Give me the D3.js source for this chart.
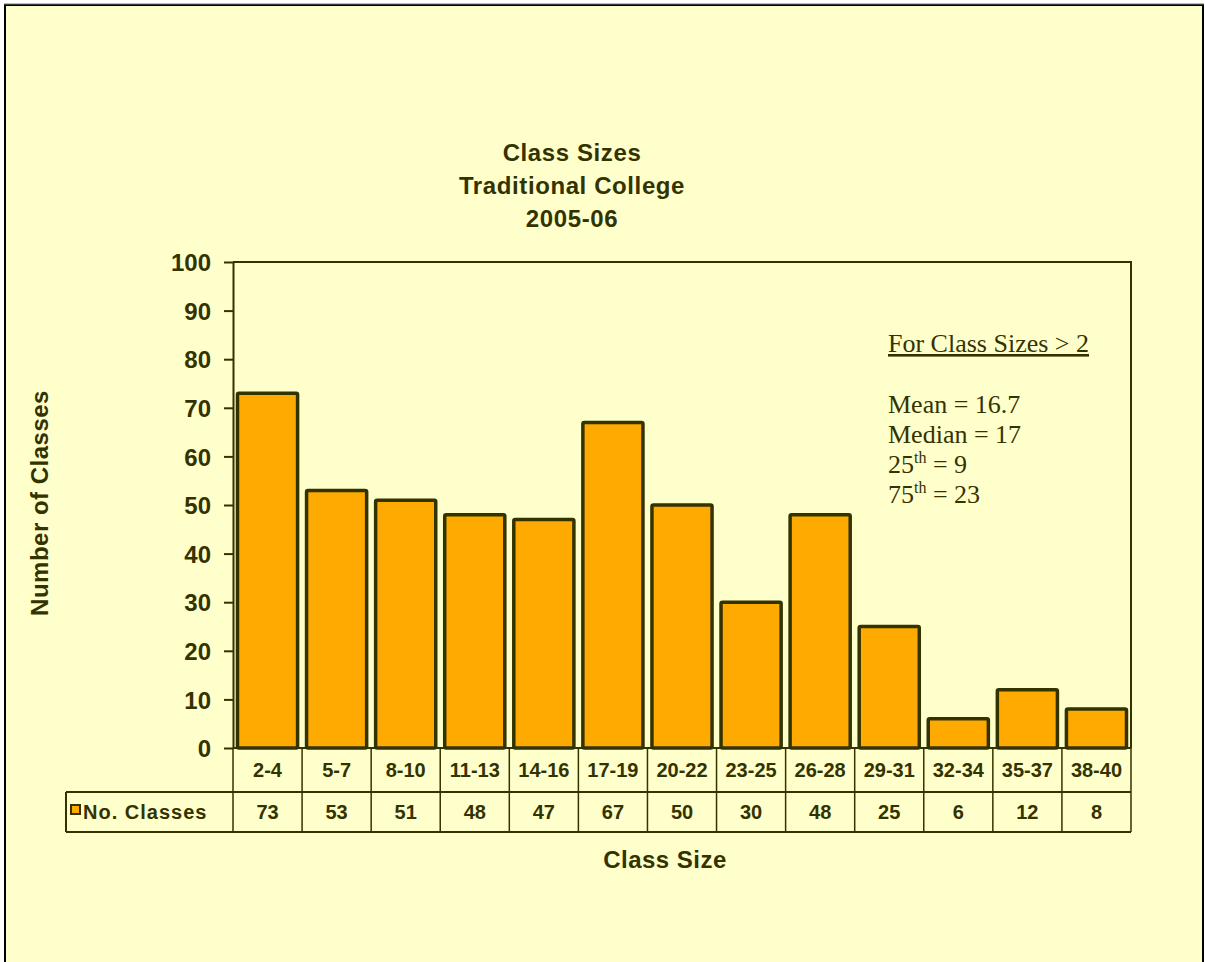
<!DOCTYPE html>
<html>
<head>
<meta charset="utf-8">
<script src="https://cdn.jsdelivr.net/npm/d3@7"></script>
<style>
  html, body { margin: 0; padding: 0; background: #fff; }
  svg { display: block; }
</style>
</head>
<body>
<div id="chart"></div>
<script>
const WIDTH = 1205;
const HEIGHT = 962;

const categories = ["2-4","5-7","8-10","11-13","14-16","17-19","20-22","23-25","26-28","29-31","32-34","35-37","38-40"];
const noClasses = [73,53,51,48,47,67,50,30,48,25,6,12,8];
const yTicks = [0,10,20,30,40,50,60,70,80,90,100];
const titleLines = ["Class Sizes","Traditional College","2005-06"];
const seriesName = "No. Classes";

const INK = "#333300";
const BAR = "#FFAA00";
const BG = "#FFFFCC";
const SANS = "Arial, 'Liberation Sans', sans-serif";

let svg = d3.select("#chart")
    .append("svg")
    .attr("width", WIDTH)
    .attr("height", HEIGHT);

// chart area with frame
svg.append("rect")
    .attr("x", 5).attr("y", 5)
    .attr("width", 1198).attr("height", 970)
    .style("fill", BG)
    .style("stroke", "#000")
    .style("stroke-width", 2);
svg.append("line")
    .attr("x1", 4).attr("x2", 1204).attr("y1", 4).attr("y2", 4)
    .style("stroke", "#777").style("stroke-width", 1);

const plot = {left: 233, right: 1131, top: 262, bottom: 748};

let x = d3.scaleBand()
    .domain(categories)
    .range([plot.left, plot.right])
    .paddingInner(0.13)
    .paddingOuter(0.065);

let xCell = d3.scaleBand()
    .domain(categories)
    .range([plot.left, plot.right]);

let y = d3.scaleLinear()
    .domain([0, 100])
    .range([plot.bottom, plot.top]);

// plot area border (top and right)
svg.append("path")
    .attr("d", `M${plot.left},${plot.top}H${plot.right}V${plot.bottom}`)
    .style("fill", "none")
    .style("stroke", INK)
    .style("stroke-width", 2);

// bars
svg.selectAll(".bar")
    .data(noClasses)
    .enter()
    .append("rect")
    .attr("class", "bar")
    .attr("x", (d, i) => x(categories[i]))
    .attr("y", d => y(d))
    .attr("width", x.bandwidth())
    .attr("height", d => y(0) - y(d))
    .attr("rx", 1.5)
    .style("fill", BAR)
    .style("stroke", INK)
    .style("stroke-width", 3.5)
    .style("stroke-linejoin", "round");

// y axis
let yAxis = d3.axisLeft(y)
    .tickValues(yTicks)
    .tickSize(9)
    .tickPadding(13)
    .tickSizeOuter(0);
let yg = svg.append("g")
    .attr("transform", `translate(${plot.left},0)`)
    .call(yAxis);
yg.select(".domain").style("stroke", INK).style("stroke-width", 2);
yg.selectAll(".tick line").style("stroke", INK).style("stroke-width", 2);
yg.selectAll(".tick text")
    .attr("dy", "0.36em")
    .style("font-family", SANS)
    .style("font-weight", "bold")
    .style("font-size", "24px")
    .style("fill", INK);

// data table
const rowTop = plot.bottom, rowMid = 792, rowBot = 832, legendLeft = 66;
let table = svg.append("g")
    .style("stroke", INK)
    .style("stroke-width", 2);
table.append("line").attr("x1", plot.left).attr("x2", plot.right)
    .attr("y1", rowTop).attr("y2", rowTop);
table.append("line").attr("x1", legendLeft).attr("x2", plot.right)
    .attr("y1", rowMid).attr("y2", rowMid);
table.append("line").attr("x1", legendLeft).attr("x2", plot.right)
    .attr("y1", rowBot).attr("y2", rowBot);
table.append("line").attr("x1", legendLeft).attr("x2", legendLeft)
    .attr("y1", rowMid).attr("y2", rowBot);
table.selectAll(".vline")
    .data(categories.concat(["end"]))
    .enter()
    .append("line")
    .attr("class", "vline")
    .attr("x1", (d, i) => i < categories.length ? xCell(d) : plot.right)
    .attr("x2", (d, i) => i < categories.length ? xCell(d) : plot.right)
    .attr("y1", rowTop)
    .attr("y2", rowBot)
    .style("stroke-width", 1.5);

let cellFont = g => g
    .style("font-family", SANS)
    .style("font-weight", "bold")
    .style("font-size", "20px")
    .style("fill", INK)
    .attr("text-anchor", "middle");

svg.append("g").selectAll("text")
    .data(categories)
    .enter()
    .append("text")
    .attr("x", d => xCell(d) + xCell.bandwidth() / 2)
    .attr("y", 777)
    .text(d => d)
    .call(cellFont);

svg.append("g").selectAll("text")
    .data(noClasses)
    .enter()
    .append("text")
    .attr("x", (d, i) => xCell(categories[i]) + xCell.bandwidth() / 2)
    .attr("y", 819)
    .text(d => d)
    .call(cellFont);

// legend key
svg.append("rect")
    .attr("x", 71).attr("y", 805)
    .attr("width", 9).attr("height", 9)
    .style("fill", BAR)
    .style("stroke", INK)
    .style("stroke-width", 2);
svg.append("text")
    .attr("x", 83).attr("y", 819)
    .text(seriesName)
    .call(cellFont)
    .attr("text-anchor", "start")
    .style("letter-spacing", "1px");

// titles
svg.append("g").selectAll("text")
    .data(titleLines)
    .enter()
    .append("text")
    .attr("x", 572)
    .attr("y", (d, i) => 161 + i * 33)
    .attr("text-anchor", "middle")
    .style("font-family", SANS)
    .style("font-weight", "bold")
    .style("font-size", "24px")
    .style("letter-spacing", "0.6px")
    .style("fill", INK)
    .text(d => d);

svg.append("text")
    .attr("transform", "translate(48,503) rotate(-90)")
    .attr("text-anchor", "middle")
    .style("font-family", SANS)
    .style("font-weight", "bold")
    .style("font-size", "24px")
    .style("letter-spacing", "0.5px")
    .style("fill", INK)
    .text("Number of Classes");

svg.append("text")
    .attr("x", 665)
    .attr("y", 868)
    .attr("text-anchor", "middle")
    .style("font-family", SANS)
    .style("font-weight", "bold")
    .style("font-size", "24px")
    .style("letter-spacing", "0.5px")
    .style("fill", INK)
    .text("Class Size");

// statistics note
let note = svg.append("g")
    .style("font-family", "'Times New Roman', 'Liberation Serif', serif")
    .style("font-size", "26px")
    .style("fill", INK);
note.append("text")
    .attr("x", 888).attr("y", 352)
    .style("text-decoration", "underline")
    .text("For Class Sizes > 2");
note.append("text").attr("x", 888).attr("y", 413).text("Mean = 16.7");
note.append("text").attr("x", 888).attr("y", 443).text("Median = 17");
let p25 = note.append("text").attr("x", 888).attr("y", 473);
p25.append("tspan").text("25");
p25.append("tspan").attr("dy", -10).style("font-size", "16px").text("th");
p25.append("tspan").attr("dy", 10).text(" = 9");
let p75 = note.append("text").attr("x", 888).attr("y", 503);
p75.append("tspan").text("75");
p75.append("tspan").attr("dy", -10).style("font-size", "16px").text("th");
p75.append("tspan").attr("dy", 10).text(" = 23");
</script>
</body>
</html>
